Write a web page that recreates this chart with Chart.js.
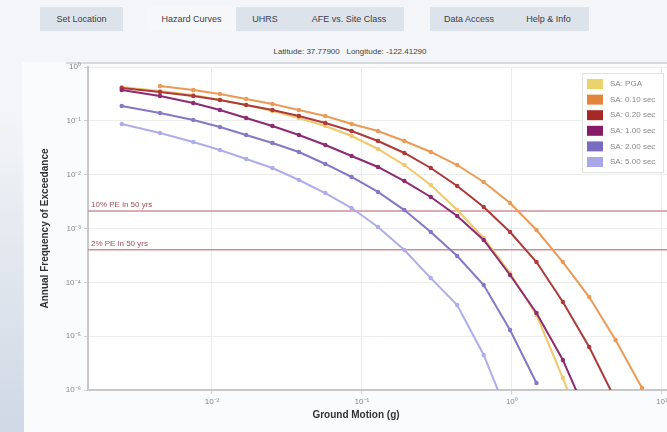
<!DOCTYPE html>
<html><head><meta charset="utf-8">
<script src="https://cdn.jsdelivr.net/npm/chart.js@4.4.1/dist/chart.umd.min.js"></script>
<style>
html,body{margin:0;padding:0;}
body{width:667px;height:432px;overflow:hidden;background:#f3f5f8;font-family:"Liberation Sans",Arial,sans-serif;position:relative;}
.btn{position:absolute;top:7px;height:24px;line-height:24px;font-size:9px;color:#3a3f48;text-align:center;background:#dde3ea;}
.btn.active{background:#f6f7f9;}
#lat{position:absolute;top:47px;left:0;width:700px;text-align:center;font-size:8px;color:#444;}
#panel{position:absolute;left:22px;top:62px;width:660px;height:380px;background:#fafbfc;}
#pline{position:absolute;left:66px;top:62px;width:620px;height:2px;background:#d6d9de;}
#strip{position:absolute;left:0;top:110px;width:24px;height:322px;background:linear-gradient(to bottom,rgba(214,222,233,0),#cfd8e4);}
#wrap{position:absolute;left:0;top:0;width:667px;height:432px;overflow:hidden;}
canvas{position:absolute;left:0;top:0;}
#xt{position:absolute;left:256px;width:200px;top:409px;text-align:center;font-size:10px;font-weight:bold;color:#333;}
</style></head>
<body>
<div class="btn" style="left:40px;width:83px;">Set Location</div>
<div class="btn active" style="left:147px;width:89px;">Hazard Curves</div>
<div class="btn" style="left:236px;width:58px;">UHRS</div>
<div class="btn" style="left:294px;width:110px;">AFE vs. Site Class</div>
<div class="btn" style="left:430px;width:78px;">Data Access</div>
<div class="btn" style="left:508px;width:81px;">Help &amp; Info</div>
<div id="lat">Latitude: 37.77900 &nbsp; Longitude: -122.41290</div>
<div id="panel"></div>
<div id="pline"></div>
<div id="strip"></div>
<div id="wrap"><canvas id="c" width="700" height="432"></canvas></div>
<div id="xt">Ground Motion (g)</div>
<script>
const groundMotion = [0.0025,0.0045,0.0075,0.0113,0.0169,0.0253,0.038,0.057,0.0854,0.128,0.192,0.288,0.432,0.649,0.973,1.46,2.19,3.28,4.92,7.38];
const seriesNames = ["SA: PGA","SA: 0.10 sec","SA: 0.20 sec","SA: 1.00 sec","SA: 2.00 sec","SA: 5.00 sec"];
const afePGA  = [0.425,0.358,0.302,0.244,0.197,0.152,0.113,0.0802,0.0523,0.0300,0.0151,0.00643,0.00220,0.000666,0.000149,2.47e-5,1.67e-6,9.5e-8];
const afe010  = [null,0.443,0.374,0.315,0.255,0.206,0.159,0.123,0.0873,0.0647,0.0422,0.0264,0.0151,0.00731,0.00297,0.000937,0.000238,5.33e-5,8.49e-6,1.09e-6];
const afe020  = [0.407,0.343,0.289,0.244,0.197,0.159,0.123,0.0912,0.0647,0.0422,0.0253,0.0133,0.00616,0.00251,0.000859,0.000238,4.31e-5,6.29e-6,6.51e-7];
const afe100  = [0.374,0.289,0.214,0.159,0.113,0.0802,0.0546,0.0356,0.0222,0.0139,0.00762,0.00385,0.00171,0.000611,0.000137,2.69e-5,3.6e-6,2.77e-7];
const afe200  = [0.189,0.140,0.104,0.0768,0.0546,0.0387,0.0264,0.0158,0.00905,0.00477,0.00220,0.000861,0.000308,8.91e-5,1.30e-5,1.35e-6];
const afe500  = [0.0873,0.0594,0.0404,0.0287,0.0195,0.0133,0.00796,0.00456,0.00240,0.00107,0.000398,0.000120,3.79e-5,4.47e-6,2.77e-7];
const refNames = ["10% PE in 50 yrs","2% PE in 50 yrs"];
const refValues = [0.002105,0.000404];
const xTickValues = [0.01,0.1,1,10];
const yTickValues = [1,0.1,0.01,0.001,0.0001,0.00001,0.000001];
const xMin = 0.00149, xMax = 11.7, yMin = 1e-6, yMax = 1;

const colors = ['#f1c96c','#eb9a55','#ad3a38','#8e2a72','#8677c6','#adadea'];
const swatch = ['#e9d46a','#e3843e','#a52a26','#861a66','#7a6cc0','#a8a8e8'];
const allSeries = [afePGA,afe010,afe020,afe100,afe200,afe500];

const sup = {'-':'⁻','0':'⁰','1':'¹','2':'²','3':'³','4':'⁴','5':'⁵','6':'⁶','7':'⁷','8':'⁸','9':'⁹'};
function fmt(v){const e=Math.round(Math.log10(v));return '10'+String(e).split('').map(c=>sup[c]).join('');}

const datasets = [];
refValues.forEach((v,i)=>{
  datasets.push({label:refNames[i],data:[{x:xMin,y:v},{x:xMax,y:v}],borderColor:'#cc8f9a',borderWidth:1.5,pointRadius:0,order:10});
});
allSeries.forEach((s,i)=>{
  datasets.push({label:seriesNames[i],data:s.map((v,j)=>({x:groundMotion[j],y:v})),borderColor:colors[i],backgroundColor:colors[i],
    borderWidth:2,pointRadius:2.2,pointBorderWidth:0,pointBackgroundColor:colors[i],spanGaps:false,order:6-i});
});

const bgPlugin={id:'bg',beforeDraw(c){const a=c.chartArea,x=c.ctx;x.save();x.fillStyle='#ffffff';x.fillRect(a.left,a.top,a.right-a.left,a.bottom-a.top);x.restore();}};
const refPlugin={id:'ref',afterDatasetsDraw(c){const x=c.ctx,a=c.chartArea,y=c.scales.y;x.save();x.font='8px "Liberation Sans", Arial';x.fillStyle='#a0505e';x.textBaseline='bottom';
  refNames.forEach((t,i)=>{x.fillText(t,a.left+3,y.getPixelForValue(refValues[i])-2);});x.restore();}};
const legPlugin={id:'leg',afterDraw(c){const x=c.ctx,a=c.chartArea;const L=a.right-90,T=a.top+6,W=81,H=99;x.save();
  x.fillStyle='rgba(255,255,255,0.95)';x.fillRect(L,T,W,H);x.strokeStyle='#e2e2e2';x.lineWidth=1;x.strokeRect(L+0.5,T+0.5,W,H);
  x.font='8px "Liberation Sans", Arial';x.textBaseline='middle';
  seriesNames.forEach((n,i)=>{const cy=T+11+i*15.6;x.fillStyle=swatch[i];x.fillRect(L+5,cy-5,16,10);x.fillStyle='#888';x.fillText(n,L+28,cy);});
  x.restore();}};

new Chart(document.getElementById('c'),{
  type:'line',
  data:{datasets},
  options:{
    responsive:false,animation:false,devicePixelRatio:1,
    layout:{padding:{top:67,right:28,left:0,bottom:0}},
    plugins:{legend:{display:false},tooltip:{enabled:false}},
    scales:{
      x:{type:'logarithmic',min:xMin,max:xMax,
        afterFit(s){s.height=42;},
        afterBuildTicks(s){s.ticks=xTickValues.map(v=>({value:v}));},
        grid:{color:'#ececec',lineWidth:1,tickLength:4,tickColor:'#d0d0d0'},
        border:{color:'#c8c8c8',width:2},
        ticks:{font:{size:8,family:'"Liberation Sans", Arial'},color:'#888',padding:3,maxRotation:0,autoSkip:false,callback:v=>fmt(v)}
      },
      y:{type:'logarithmic',min:yMin,max:yMax,
        afterFit(s){s.width=88;},
        afterBuildTicks(s){s.ticks=yTickValues.map(v=>({value:v}));},
        grid:{color:'#ececec',lineWidth:1,tickLength:4,tickColor:'#d0d0d0'},
        border:{color:'#c8c8c8',width:2},
        ticks:{font:{size:8,family:'"Liberation Sans", Arial'},color:'#888',padding:3,autoSkip:false,callback:v=>fmt(v)},
        title:{display:true,text:'Annual Frequency of Exceedance',font:{size:10,weight:'bold',family:'"Liberation Sans", Arial'},color:'#333',padding:{top:39,bottom:0}}
      }
    }
  },
  plugins:[bgPlugin,refPlugin,legPlugin]
});
</script>
</body></html>
